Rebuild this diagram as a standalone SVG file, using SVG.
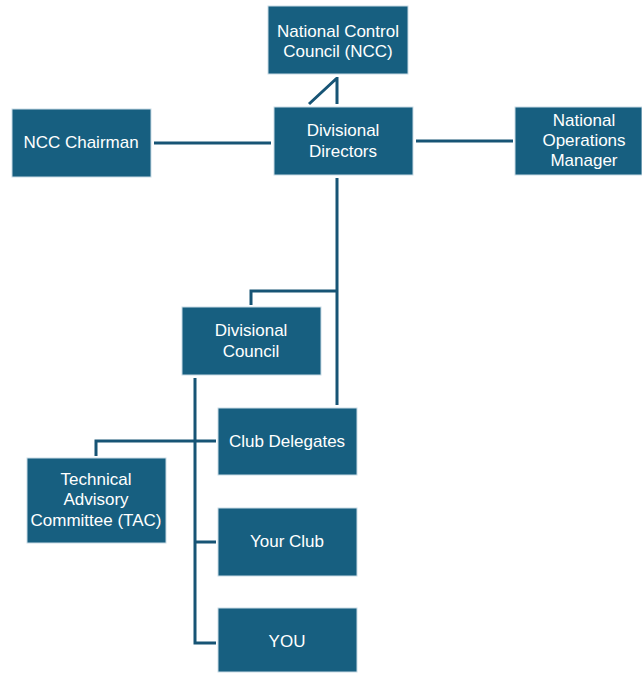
<svg xmlns="http://www.w3.org/2000/svg" width="642" height="673" viewBox="0 0 642 673">
<style>
.box{fill:#175f80;stroke:#c9dbe5;stroke-width:1}
.t{fill:#ffffff;font-family:"Liberation Sans",Arial,sans-serif;font-size:17px;text-anchor:middle}
.c{fill:none;stroke:#175475;stroke-width:3}
</style>
<rect width="642" height="673" fill="#ffffff"/>
<g id="connectors">
<path class="c" d="M337 77 V104 M337 78 L309 104"/>
<path class="c" d="M154 143 H271"/>
<path class="c" d="M416 141 H513"/>
<path class="c" d="M337 178 V405 M337 291 H251 V305"/>
<path class="c" d="M195 378 V643 H216 M195 441 H216 M195 542 H216 M195 441 H96 V456"/>
</g>
<g id="ncc"><rect class="box" x="268" y="6" width="140" height="68"/><text class="t" x="338" y="37">National Control</text><text class="t" x="338" y="57">Council (NCC)</text></g>
<g id="directors"><rect class="box" x="274" y="107" width="139" height="68"/><text class="t" x="343" y="136">Divisional</text><text class="t" x="343" y="157">Directors</text></g>
<g id="chairman"><rect class="box" x="12" y="109" width="139" height="68"/><text class="t" x="81" y="148">NCC Chairman</text></g>
<g id="ops"><rect class="box" x="515" y="107" width="127" height="68"/><text class="t" x="584" y="126">National</text><text class="t" x="584" y="146">Operations</text><text class="t" x="584" y="166">Manager</text></g>
<g id="council"><rect class="box" x="182" y="307" width="139" height="68"/><text class="t" x="251" y="336">Divisional</text><text class="t" x="251" y="357">Council</text></g>
<g id="delegates"><rect class="box" x="218" y="408" width="139" height="67"/><text class="t" x="287" y="447">Club Delegates</text></g>
<g id="tac"><rect class="box" x="27" y="458" width="139" height="85"/><text class="t" x="96" y="485">Technical</text><text class="t" x="96" y="505">Advisory</text><text class="t" x="96" y="526">Committee (TAC)</text></g>
<g id="yourclub"><rect class="box" x="218" y="508" width="139" height="68"/><text class="t" x="287" y="547">Your Club</text></g>
<g id="you"><rect class="box" x="218" y="608" width="139" height="64"/><text class="t" x="287" y="647">YOU</text></g>
</svg>
